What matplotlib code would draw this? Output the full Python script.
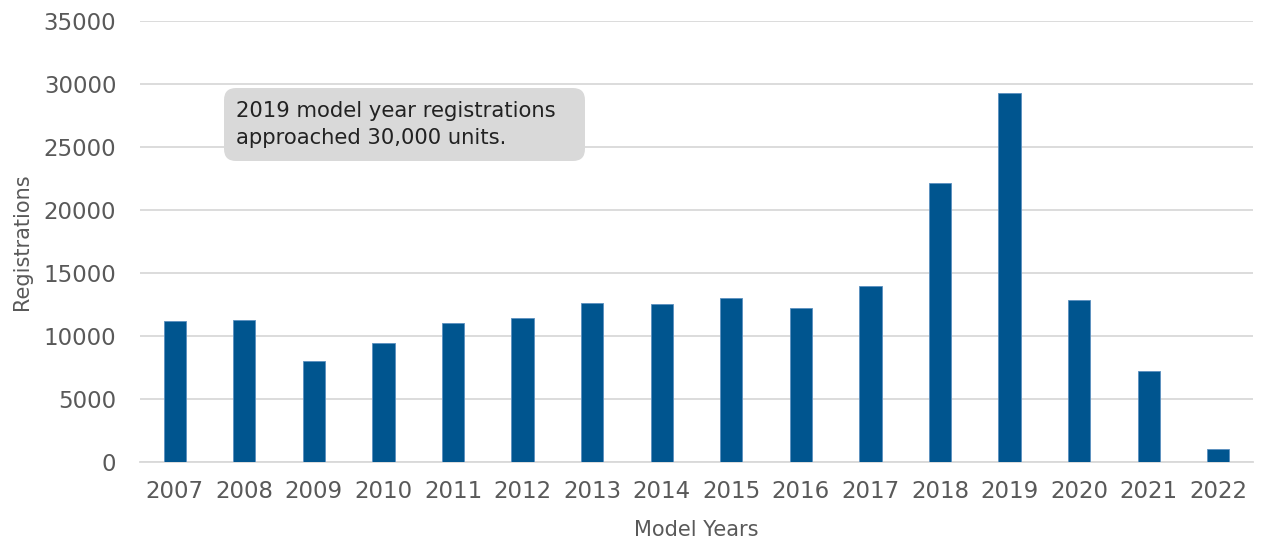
import numpy as np
import matplotlib.pyplot as plt
from matplotlib.patches import FancyBboxPatch

years = ['2007', '2008', '2009', '2010', '2011', '2012', '2013', '2014',
         '2015', '2016', '2017', '2018', '2019', '2020', '2021', '2022']
registrations = [11200, 11300, 8000, 9450, 11000, 11450, 12650, 12550,
                 13000, 12250, 14000, 22150, 29300, 12850, 7250, 1050]
yticks = [0, 5000, 10000, 15000, 20000, 25000, 30000, 35000]
note = '2019 model year registrations\napproached 30,000 units.'

plt.rcParams['font.family'] = ['DejaVu Sans']

fig = plt.figure(figsize=(12.61, 5.42), dpi=100)
ax = fig.add_axes([0.111, 0.1476, 0.8827, 0.8137])

x = np.arange(len(years))
ax.bar(x, registrations, width=0.32, color='#00558f', edgecolor='#5a8fbf',
       linewidth=0.6, zorder=3)

ax.set_xlim(-0.5, len(years) - 0.5)
ax.set_ylim(0, 35000)
ax.set_yticks(yticks)
ax.set_xticks(x)
ax.set_xticklabels(years)
ax.tick_params(axis='both', length=0, labelsize=16.5, colors='#595959')
ax.tick_params(axis='x', pad=13)
ax.tick_params(axis='y', pad=17)
ax.grid(axis='y', color='#d9d9d9', linewidth=1.3, zorder=0)
for s in ['top', 'right', 'left']:
    ax.spines[s].set_visible(False)
ax.spines['bottom'].set_color('#d9d9d9')
ax.spines['bottom'].set_linewidth(1.3)

ax.set_xlabel('Model Years', fontsize=15, color='#595959', labelpad=12)
ax.set_ylabel('Registrations', fontsize=15, color='#595959', labelpad=8)

# callout box
box = FancyBboxPatch((0.0755, 0.6825), 0.3243, 0.1655,
                     boxstyle='round,pad=0,rounding_size=0.0108',
                     mutation_aspect=2.52, transform=ax.transAxes,
                     facecolor='#d9d9d9', edgecolor='none', zorder=5)
ax.add_patch(box)
ax.text(0.0863, 0.766, note, transform=ax.transAxes, fontsize=15.2,
        color='#222222', va='center', ha='left', linespacing=1.45, zorder=6)

fig.savefig('out.png', dpi=100)
